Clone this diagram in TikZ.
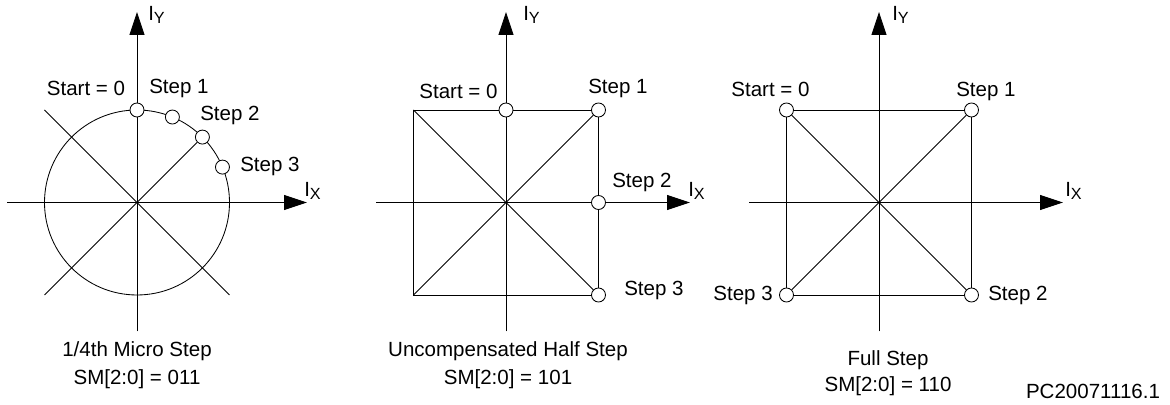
\documentclass[tikz,border=0pt]{standalone}
\usepackage{fontspec}
\setmainfont{Liberation Sans}
\usetikzlibrary{arrows.meta}
\newcommand\axsub[1]{\raisebox{-2pt}{\fontsize{11.5}{12}\selectfont #1}}
\tikzset{
  axis/.style={line width=0.6pt, -{Triangle[length=5.75mm,width=3.75mm]}},
  vec/.style={line width=0.6pt},
  stepdot/.style={circle, draw, fill=white, line width=0.6pt,
                  minimum size=3.5mm, inner sep=0pt},
  lbl/.style={font=\fontsize{14.6}{17}\selectfont, inner sep=0pt},
}
\begin{document}
\begin{tikzpicture}[x=0.25mm, y=0.25mm]
  \useasboundingbox (0,0) rectangle (1170,405);

  % 1/4th micro step
  \begin{scope}[shift={(137,202.5)}, name prefix=a-]
    \coordinate (xw) at (-130,0);  \coordinate (xe) at (170,0);
    \coordinate (ys) at (0,-129);  \coordinate (yn) at (0,190.5);
    \coordinate (nw) at (-92.5,92.5); \coordinate (se) at (92.5,-92.5);
    \coordinate (sw) at (-92.5,-92.5);
    \draw[axis] (xw) -- (xe);
    \draw[axis] (ys) -- (yn);
    \draw[vec] (0,0) circle (92.5);
    \draw[vec] (nw) -- (se);
    \node[stepdot] (s0) at (90:92.5) {};
    \node[stepdot] (s1) at (67.5:92.5) {};
    \node[stepdot] (s2) at (45:92.5) {};
    \node[stepdot] (s3) at (22.5:92.5) {};
    \draw[vec] (sw) -- (s2);

    \node[lbl, anchor=base] (l0) at (-51,106.5) {Start = 0};
    \node[lbl, anchor=base west] (l1) at (12,108.5) {Step 1};
    \node[lbl, anchor=base west] (l2) at (63,81.5) {Step 2};
    \node[lbl, anchor=base west] (l3) at (103,30.5) {Step 3};
    \node[lbl, anchor=base west] (lx) at (167,5.5) {I\axsub{X}};
    \node[lbl, anchor=base west] (ly) at (11,181.5) {I\axsub{Y}};
    \node[lbl, anchor=base] (c1) at (0,-154.5) {1/4th Micro Step};
    \node[lbl, anchor=base] (c2) at (0,-182.5) {SM[2:0] = 011};
  \end{scope}

  % uncompensated half step
  \begin{scope}[shift={(506,202.5)}, name prefix=b-]
    \coordinate (xw) at (-130,0);  \coordinate (xe) at (184,0);
    \coordinate (ys) at (0,-129);  \coordinate (yn) at (0,190.5);
    \coordinate (nw) at (-92.5,92.5); \coordinate (sw) at (-92.5,-92.5);
    \draw[axis] (xw) -- (xe);
    \draw[axis] (ys) -- (yn);
    \node[stepdot] (s0) at (0,92.5) {};
    \node[stepdot] (s1) at (92.5,92.5) {};
    \node[stepdot] (s2) at (92.5,0) {};
    \node[stepdot] (s3) at (92.5,-92.5) {};
    \draw[vec] (s0) -- (nw) -- (sw) -- (s3);
    \draw[vec] (s0) -- (s1);
    \draw[vec] (s1) -- (s2);
    \draw[vec] (s2) -- (s3);
    \draw[vec] (nw) -- (s3);
    \draw[vec] (sw) -- (s1);

    \node[lbl, anchor=base] (l0) at (-47.5,103.5) {Start = 0};
    \node[lbl, anchor=base west] (l1) at (82,108.5) {Step 1};
    \node[lbl, anchor=base west] (l2) at (106,14.5) {Step 2};
    \node[lbl, anchor=base west] (l3) at (118,-93.5) {Step 3};
    \node[lbl, anchor=base west] (lx) at (182,5.5) {I\axsub{X}};
    \node[lbl, anchor=base west] (ly) at (17,181.5) {I\axsub{Y}};
    \node[lbl, anchor=base] (c1) at (2,-154.5) {Uncompensated Half Step};
    \node[lbl, anchor=base] (c2) at (2,-182.5) {SM[2:0] = 101};
  \end{scope}

  % full step
  \begin{scope}[shift={(879,202.5)}, name prefix=c-]
    \coordinate (xw) at (-130,0);  \coordinate (xe) at (184,0);
    \coordinate (ys) at (0,-129);  \coordinate (yn) at (0,190.5);
    \draw[axis] (xw) -- (xe);
    \draw[axis] (ys) -- (yn);
    \node[stepdot] (s0) at (-92.5,92.5) {};
    \node[stepdot] (s1) at (92.5,92.5) {};
    \node[stepdot] (s2) at (92.5,-92.5) {};
    \node[stepdot] (s3) at (-92.5,-92.5) {};
    \draw[vec] (s0) -- (s1);
    \draw[vec] (s1) -- (s2);
    \draw[vec] (s2) -- (s3);
    \draw[vec] (s3) -- (s0);
    \draw[vec] (s0) -- (s2);
    \draw[vec] (s3) -- (s1);

    \node[lbl, anchor=base] (l0) at (-108.5,105.5) {Start = 0};
    \node[lbl, anchor=base west] (l1) at (77,105.5) {Step 1};
    \node[lbl, anchor=base west] (l2) at (109,-98.5) {Step 2};
    \node[lbl, anchor=base east] (l3) at (-106,-98.5) {Step 3};
    \node[lbl, anchor=base west] (lx) at (186,5.5) {I\axsub{X}};
    \node[lbl, anchor=base west] (ly) at (13,181.5) {I\axsub{Y}};
    \node[lbl, anchor=base] (c1) at (9,-163.5) {Full Step};
    \node[lbl, anchor=base] (c2) at (9,-189.5) {SM[2:0] = 110};
  \end{scope}

  \node[lbl, anchor=base] (ref) at (1093,6) {PC20071116.1};
\end{tikzpicture}
\end{document}
